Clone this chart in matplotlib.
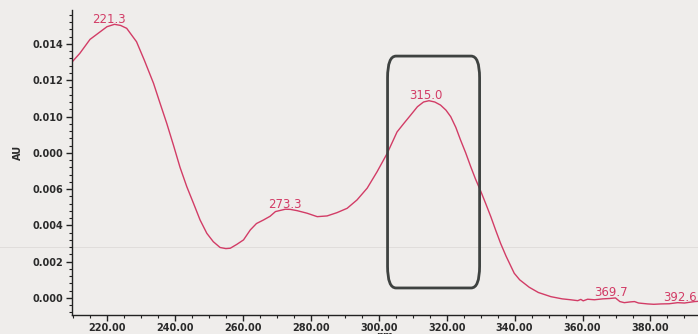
import matplotlib
matplotlib.use("Agg")
import matplotlib.pyplot as plt
from matplotlib.patches import FancyBboxPatch
from matplotlib.lines import Line2D
from matplotlib.ticker import FixedLocator, FixedFormatter, MultipleLocator

wavelength = [209.7, 212, 215, 218, 220, 222.2, 224, 225.8, 228.7, 231, 233.7, 235.5,
              237.6, 239.6, 241.5, 243.5, 245.5, 247.4, 249.4, 251.3, 253.3, 255,
              256.3, 258.2, 260.2, 262.2, 264, 266.1, 268, 269.6, 272.5, 274, 276,
              278.9, 281.9, 284.8, 287.7, 290.7, 293.6, 296.6, 299.5, 302.5, 305.4,
              307.4, 309.5, 311.4, 313.2, 314.8, 316.5, 318.2, 319.8, 321.2, 322.7,
              324.1, 325.6, 327.1, 328.5, 330, 331.5, 333, 334.5, 335.9, 337.5,
              339.9, 341.5, 344.3, 347, 350.7, 354, 356.5, 358.6, 359.5, 360.2,
              361.5, 363.5, 366, 368, 369.7, 371, 372.3, 374, 375.3, 376.5, 379.2,
              381, 383.1, 385.5, 388, 390, 393, 394.5]
absorbance = [0.0130, 0.01348, 0.01425, 0.01467, 0.01495, 0.01508, 0.01502, 0.01486,
              0.01412, 0.0131, 0.01183, 0.0108, 0.00962, 0.00840, 0.0072, 0.00613,
              0.0052, 0.0043, 0.00356, 0.0031, 0.00278, 0.00272, 0.00274, 0.00295,
              0.0032, 0.00375, 0.0041, 0.0043, 0.0045, 0.00476, 0.00489, 0.00488,
              0.00481, 0.00467, 0.00448, 0.00452, 0.0047, 0.00494, 0.0054, 0.00605,
              0.00695, 0.00797, 0.00915, 0.00962, 0.0101, 0.01054, 0.0108, 0.01087,
              0.0108, 0.01063, 0.01035, 0.00999, 0.0094, 0.0087, 0.0080, 0.00723,
              0.00655, 0.00590, 0.0052, 0.00448, 0.0037, 0.0030, 0.0023, 0.00136,
              0.0010, 0.00059, 0.0003, 0.00007, -0.00005, -0.0001, -0.00015, -0.00008,
              -0.00016, -0.00007, -0.0001, -0.00005, -0.00003, 0.0, -0.0002, -0.00026,
              -0.00022, -0.0002, -0.00028, -0.00033, -0.00035, -0.00033, -0.00032,
              -0.00026, -0.00028, -0.0002, -0.00018]

peak_x = [221.3, 273.3, 315.0, 369.7, 392.6]
peak_y = [0.01508, 0.00489, 0.01087, 0.0, -0.00020]
peak_labels = ["221.3", "273.3", "315.0", "369.7", "392.6"]

ytick_values = [0.000, 0.002, 0.004, 0.006, 0.008, 0.010, 0.012, 0.014]
ytick_labels = ["0.000", "0.002", "0.004", "0.006", "0.000", "0.010", "0.012", "0.014"]
xtick_values = [220, 240, 260, 280, 300, 320, 340, 360, 380]
xtick_labels = ["220.00", "240.00", "260.00", "280.00", "300.00", "320.00",
                "340.00", "360.00", "380.00"]

box_x = [302.6, 329.7]
box_y = [0.00055, 0.01333]

bg = "#efedeb"
red = "#d23c66"

fig = plt.figure(figsize=(6.98, 3.34), dpi=100, facecolor=bg)

# faint scan line behind everything
fig.add_artist(Line2D([0, 1], [1 - 247 / 334, 1 - 247 / 334], transform=fig.transFigure,
                      color="#e0dddb", lw=0.7, zorder=-10))

ax = fig.add_axes([72 / 698, 1 - 315 / 334, 1 - 72 / 698, 305 / 334])
ax.set_facecolor("none")

ax.plot(wavelength, absorbance, color=red, lw=1.0)

ax.set_xlim(209.7, 394.0)
ax.set_ylim(-0.00094, 0.01587)

for s in ["top", "right"]:
    ax.spines[s].set_visible(False)
for s in ["left", "bottom"]:
    ax.spines[s].set_color("#222222")
    ax.spines[s].set_linewidth(1.0)

ax.yaxis.set_major_locator(FixedLocator(ytick_values))
ax.yaxis.set_major_formatter(FixedFormatter(ytick_labels))
ax.yaxis.set_minor_locator(MultipleLocator(0.0004))
ax.xaxis.set_major_locator(FixedLocator(xtick_values))
ax.xaxis.set_major_formatter(FixedFormatter(xtick_labels))
ax.xaxis.set_minor_locator(MultipleLocator(5))

ax.tick_params(axis="both", which="major", direction="out", length=4, width=1.0,
               color="#222222", labelsize=7, pad=2)
ax.tick_params(axis="both", which="minor", direction="out", length=2, width=0.8,
               color="#222222")
for lab in ax.get_xticklabels() + ax.get_yticklabels():
    lab.set_fontweight("bold")
    lab.set_color("#2a2a2a")

fig.text(18 / 698, 1 - 152 / 334, "AU", rotation=90, fontsize=7, fontweight="bold",
         color="#2a2a2a", ha="center", va="center")
fig.text(385 / 698, 1 - 331 / 334, "nm", fontsize=7, fontweight="bold",
         color="#2a2a2a", ha="center", va="top")

# label offsets in points (x, y) relative to each peak
offsets = [(-2, -1), (-2, -1), (-3, -1), (-3, -1), (-9.5, -2)]
for x, y, t, off in zip(peak_x, peak_y, peak_labels, offsets):
    ax.annotate(t, (x, y), xytext=off, textcoords="offset points",
                ha="center", va="bottom", fontsize=8.5, color=red, annotation_clip=False)

box = FancyBboxPatch((box_x[0], box_y[0]), box_x[1] - box_x[0], box_y[1] - box_y[0],
                     boxstyle="round,pad=0,rounding_size=2.5",
                     mutation_aspect=(box_y[1] - box_y[0]) / 80.0 * 3.0,
                     fill=False, edgecolor="#3e4240", lw=2.0, zorder=5)
ax.add_patch(box)

fig.savefig("out.png", dpi=100, facecolor=bg)
